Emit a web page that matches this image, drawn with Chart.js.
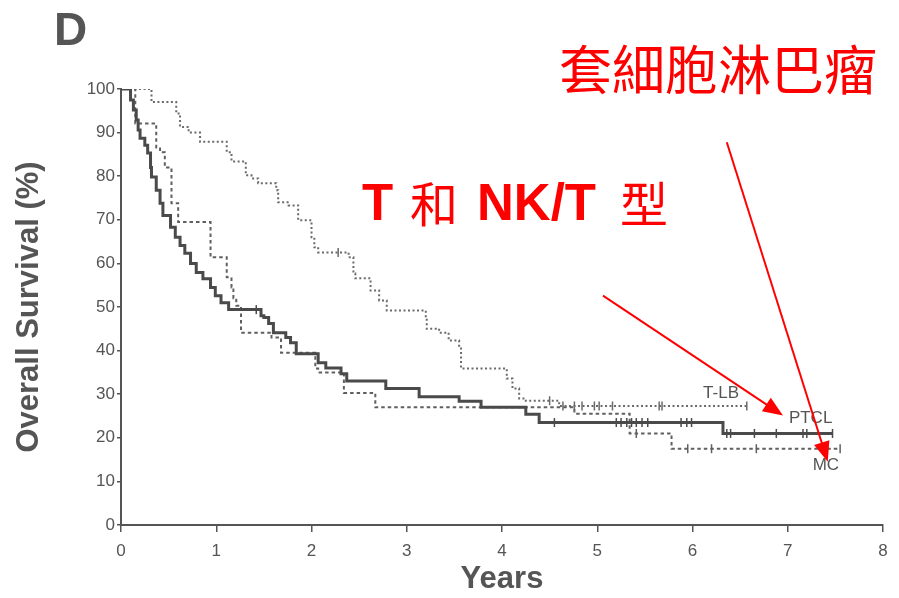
<!DOCTYPE html>
<html>
<head>
<meta charset="utf-8">
<script src="https://cdn.jsdelivr.net/npm/chart.js@4.4.1/dist/chart.umd.min.js"></script>
<style>
  html, body { margin: 0; padding: 0; background: #fff; }
  #wrap { width: 899px; height: 598px; position: relative; }
</style>
</head>
<body>
<div id="wrap"><canvas id="km" width="899" height="598"></canvas></div>
<script>
// Kaplan-Meier overall survival by lymphoma subtype (years, % surviving)
const ptclYears = [0, 0.07, 0.10, 0.13, 0.16, 0.18, 0.20, 0.25, 0.28, 0.31, 0.32, 0.37, 0.41, 0.44, 0.52, 0.57, 0.62, 0.67, 0.73, 0.79, 0.86, 0.94, 0.99, 1.05, 1.13, 1.47, 1.50, 1.55, 1.60, 1.73, 1.78, 1.84, 2.07, 2.15, 2.31, 2.37, 2.78, 3.13, 3.55, 3.78, 4.25, 4.39, 6.32, 7.47];
const ptclSurv  = [100, 100, 97.5, 95.2, 92.9, 90.6, 88.7, 87.1, 85.3, 82, 79.8, 76.8, 73.8, 71, 68.3, 66, 64.1, 62.3, 60, 57.9, 56.5, 54.5, 52.6, 51, 49.4, 48, 47.6, 46.2, 44.1, 43, 41.8, 39.3, 37.2, 36, 34.7, 33, 31.3, 29.4, 28.4, 27, 25.4, 23.5, 21, 21];

const tlbYears = [0, 0.32, 0.58, 0.62, 0.71, 0.83, 1.11, 1.16, 1.31, 1.37, 1.44, 1.63, 1.65, 1.76, 1.86, 2.00, 2.03, 2.07, 2.39, 2.44, 2.46, 2.62, 2.71, 2.79, 3.20, 3.21, 3.34, 3.44, 3.55, 3.57, 4.05, 4.11, 4.18, 4.25, 4.60, 6.57];
const tlbSurv  = [100, 97, 94.4, 91.3, 90, 87.9, 85.5, 83.4, 80.2, 79.5, 78.4, 76.8, 74, 73.3, 69.9, 66, 63.7, 62.5, 61.4, 57.7, 56.6, 53.8, 51.5, 49.2, 47.6, 45, 44.1, 42.3, 40.5, 35.9, 33.6, 31.3, 29, 28.5, 27.3, 27.3];

const mcYears = [0, 0.15, 0.37, 0.41, 0.46, 0.53, 0.60, 0.94, 1.11, 1.16, 1.18, 1.21, 1.26, 1.58, 1.68, 2.04, 2.07, 2.34, 2.67, 4.76, 5.34, 5.78, 7.55];
const mcSurv  = [100, 92.1, 86.6, 85.5, 82, 73.8, 69.5, 61.4, 56.8, 54.5, 52, 50.3, 44.1, 43, 39.5, 35.9, 35, 30.3, 27, 25.5, 21, 17.5, 17.5];

// censored observations (years)
const ptclCensored = [1.42, 4.55, 5.20, 5.25, 5.31, 5.36, 5.41, 5.47, 5.53, 5.88, 5.94, 5.99, 6.36, 6.40, 6.65, 6.88, 7.16, 7.20, 7.47];
const tlbCensored  = [2.28, 4.50, 4.64, 4.76, 4.84, 4.97, 5.02, 5.16, 5.65, 5.68, 6.57];
const mcCensored   = [5.41, 5.95, 6.20, 6.67, 7.55];

const xTicks = [0, 1, 2, 3, 4, 5, 6, 7, 8];
const yTicks = [0, 10, 20, 30, 40, 50, 60, 70, 80, 90, 100];

const INK = '#555555';

function toPoints(xs, ys) { return xs.map((x, i) => ({ x: x, y: ys[i] })); }
// survival level of a step curve at time t
function levelAt(xs, ys, t) {
  let v = ys[0];
  for (let i = 0; i < xs.length; i++) { if (xs[i] <= t + 1e-9) v = ys[i]; }
  return v;
}
function censorPoints(times, xs, ys) { return times.map(t => ({ x: t, y: levelAt(xs, ys, t) })); }

function curve(label, xs, ys, width, dash, color) {
  return {
    label: label, data: toPoints(xs, ys), stepped: 'before',
    borderColor: color, borderWidth: width, borderDash: dash,
    pointRadius: 0, fill: false, order: 2
  };
}
function ticksSet(label, times, xs, ys, color) {
  return {
    label: label, data: censorPoints(times, xs, ys), showLine: false,
    pointStyle: 'line', rotation: 90, pointRadius: 4.5,
    borderColor: color, pointBorderWidth: 1.5, order: 1
  };
}

const annotations = {
  id: 'annotations',
  afterDraw(chart) {
    const ctx = chart.ctx;
    const xs = chart.scales.x, ys = chart.scales.y;
    ctx.save();

    // panel letter
    ctx.fillStyle = INK;
    ctx.font = 'bold 46px "Liberation Sans", Arial, sans-serif';
    ctx.textBaseline = 'alphabetic';
    ctx.textAlign = 'left';
    ctx.fillText('D', 54, 45);

    // curve labels
    ctx.font = '17px "Liberation Sans", Arial, sans-serif';
    ctx.textAlign = 'center';
    ctx.textBaseline = 'middle';
    ctx.fillText('T-LB', xs.getPixelForValue(6.3), ys.getPixelForValue(30.2));
    ctx.fillText('PTCL', xs.getPixelForValue(7.24), ys.getPixelForValue(24.4));
    ctx.fillText('MC', xs.getPixelForValue(7.4), ys.getPixelForValue(13.6));

    // red captions
    ctx.fillStyle = '#ff0000';
    ctx.textAlign = 'left';
    ctx.font = '53px "Noto Sans CJK TC", sans-serif';
    ctx.fillText('套細胞淋巴瘤', 559, 70);

    const base = 220;
    ctx.textBaseline = 'alphabetic';
    ctx.font = 'bold 51px "Liberation Sans", Arial, sans-serif';
    ctx.fillText('T', 362, base);
    ctx.fillText('NK/T', 477, base);
    ctx.textBaseline = 'middle';
    ctx.font = '48px "Noto Sans CJK TC", sans-serif';
    ctx.fillText('和', 410, 204);
    ctx.fillText('型', 620, 204);

    // arrows pointing at the PTCL and MC curves
    function arrow(x0, y0, x1, y1) {
      const ax = xs.getPixelForValue(x0), ay = ys.getPixelForValue(y0);
      const bx = xs.getPixelForValue(x1), by = ys.getPixelForValue(y1);
      const ang = Math.atan2(by - ay, bx - ax);
      const L = 20, W = 8;
      ctx.strokeStyle = '#ff0000';
      ctx.lineWidth = 2;
      ctx.beginPath();
      ctx.moveTo(ax, ay);
      ctx.lineTo(bx - Math.cos(ang) * L * 0.8, by - Math.sin(ang) * L * 0.8);
      ctx.stroke();
      ctx.fillStyle = '#ff0000';
      ctx.beginPath();
      ctx.moveTo(bx, by);
      ctx.lineTo(bx - Math.cos(ang) * L - Math.sin(ang) * W, by - Math.sin(ang) * L + Math.cos(ang) * W);
      ctx.lineTo(bx - Math.cos(ang) * L + Math.sin(ang) * W, by - Math.sin(ang) * L - Math.cos(ang) * W);
      ctx.closePath();
      ctx.fill();
    }
    arrow(5.06, 52.6, 6.95, 25.1);
    arrow(6.36, 87.8, 7.42, 14.5);

    ctx.restore();
  }
};

const tickFont = { family: '"Liberation Sans", Arial, sans-serif', size: 17 };
const titleFont = { family: '"Liberation Sans", Arial, sans-serif', size: 31, weight: 'bold' };

new Chart(document.getElementById('km'), {
  type: 'line',
  data: {
    datasets: [
      curve('PTCL', ptclYears, ptclSurv, 3, [], '#4a4a4a'),
      curve('T-LB', tlbYears, tlbSurv, 2, [2, 2.5], '#6a6a6a'),
      curve('MC', mcYears, mcSurv, 2, [3.5, 3], '#606060'),
      ticksSet('PTCL censored', ptclCensored, ptclYears, ptclSurv, '#4a4a4a'),
      ticksSet('T-LB censored', tlbCensored, tlbYears, tlbSurv, '#6a6a6a'),
      ticksSet('MC censored', mcCensored, mcYears, mcSurv, '#606060')
    ]
  },
  options: {
    responsive: false,
    animation: false,
    devicePixelRatio: 1,
    layout: { padding: { top: 89, right: 16, left: 0, bottom: 0 } },
    plugins: { legend: { display: false }, tooltip: { enabled: false } },
    scales: {
      x: {
        type: 'linear', min: 0, max: 8,
        afterBuildTicks: s => { s.ticks = xTicks.map(v => ({ value: v })); },
        afterFit: s => { s.height = 73; },
        ticks: { color: INK, font: tickFont, padding: 9 },
        grid: { drawOnChartArea: false, drawTicks: true, tickLength: 7, color: INK, lineWidth: 1.5 },
        border: { display: true, color: INK, width: 2 },
        title: { display: true, text: 'Years', color: INK, font: titleFont, padding: { top: 0, bottom: 0 } }
      },
      y: {
        type: 'linear', min: 0, max: 100,
        afterBuildTicks: s => { s.ticks = yTicks.map(v => ({ value: v })); },
        afterFit: s => { s.width = 121; },
        ticks: { color: INK, font: tickFont, padding: 2 },
        grid: { drawOnChartArea: false, drawTicks: true, tickLength: 4, color: INK, lineWidth: 1.5 },
        border: { display: true, color: INK, width: 2 },
        title: { display: true, text: 'Overall Survival (%)', color: INK, font: titleFont, padding: { top: 11, bottom: 0 } }
      }
    }
  },
  plugins: [annotations]
});
</script>
</body>
</html>
